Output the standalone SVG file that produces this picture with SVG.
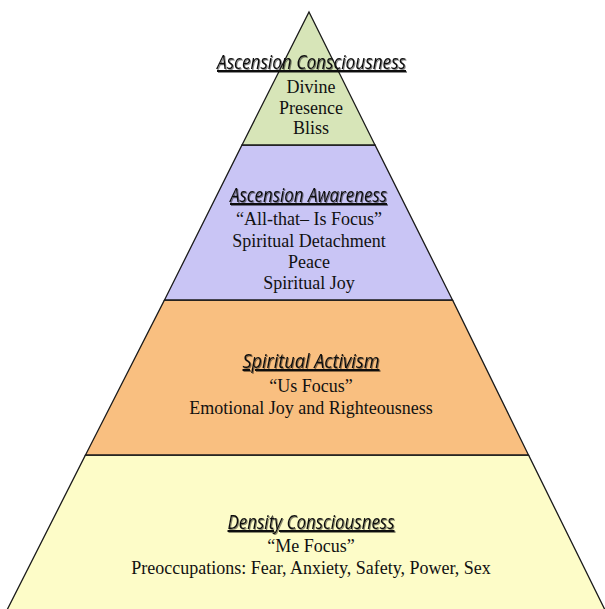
<svg xmlns="http://www.w3.org/2000/svg" width="605" height="609" viewBox="0 0 605 609">
<defs>
<style>
.layer{stroke:#1a1a1a;stroke-width:1.3;stroke-linejoin:miter}
.title{font-family:"Open Sans","DejaVu Sans",sans-serif;font-style:italic;font-size:20px;fill:#111;text-anchor:middle;text-decoration:underline;filter:url(#sh)}
.body{font-family:"Liberation Serif","Times New Roman",serif;font-size:18px;fill:#111;text-anchor:middle}
</style>
<filter id="sh" x="-10%" y="-30%" width="120%" height="160%">
<feDropShadow dx="1" dy="1" stdDeviation="0.6" flood-color="#000" flood-opacity="0.45"/>
</filter>
</defs>
<rect width="605" height="609" fill="#ffffff"/>
<g id="layer-density">
<polygon class="layer" points="85.5,455 528.5,455 607,614 5,614" fill="#fdfcc8"/>
<text class="title" x="311" y="529" textLength="167" lengthAdjust="spacingAndGlyphs">Density Consciousness</text>
<text class="body" x="311" y="552">“Me Focus”</text>
<text class="body" x="311" y="574">Preoccupations: Fear, Anxiety, Safety, Power, Sex</text>
</g>
<g id="layer-activism">
<polygon class="layer" points="164.5,300 452.5,300 528.5,455 85.5,455" fill="#f9bf80"/>
<text class="title" x="311" y="368" textLength="137" lengthAdjust="spacingAndGlyphs">Spiritual Activism</text>
<text class="body" x="311" y="392">“Us Focus”</text>
<text class="body" x="311" y="414">Emotional Joy and Righteousness</text>
</g>
<g id="layer-awareness">
<polygon class="layer" points="242,145 375,145 452.5,300 164.5,300" fill="#c9c5f5"/>
<text class="title" x="308.5" y="202" textLength="157" lengthAdjust="spacingAndGlyphs">Ascension Awareness</text>
<text class="body" x="309" y="225">“All-that– Is Focus”</text>
<text class="body" x="309" y="247">Spiritual Detachment</text>
<text class="body" x="309" y="268">Peace</text>
<text class="body" x="309" y="289">Spiritual Joy</text>
</g>
<g id="layer-ascension">
<polygon class="layer" points="309,12 375,145 242,145" fill="#d7e5b8"/>
<text class="title" x="311.5" y="69" textLength="189" lengthAdjust="spacingAndGlyphs">Ascension  Consciousness</text>
<text class="body" x="311" y="93">Divine</text>
<text class="body" x="311" y="114">Presence</text>
<text class="body" x="311" y="134">Bliss</text>
</g>
</svg>
